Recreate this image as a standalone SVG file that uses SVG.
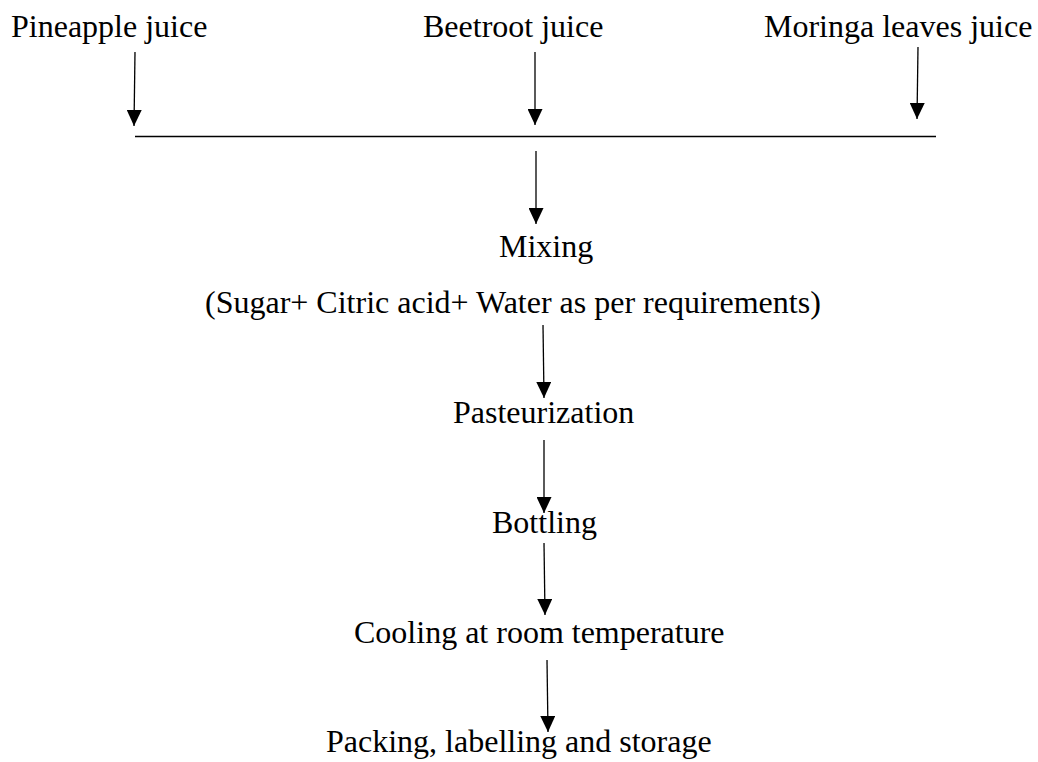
<svg xmlns="http://www.w3.org/2000/svg" width="1038" height="762" viewBox="0 0 1038 762">
<style>
text{font-family:"Liberation Serif","Times New Roman",serif;font-size:32px;fill:#000}
.c line{stroke:#000;stroke-width:1.3;fill:none}
</style>
<defs>
<marker id="ah" markerUnits="userSpaceOnUse" viewBox="0 0 16 15" refX="16" refY="7.5" markerWidth="16" markerHeight="15" orient="auto">
<path d="M0,0 L16,7.5 L0,15 z" fill="#000"/>
</marker>
</defs>
<rect width="1038" height="762" fill="#fff"/>
<g id="n-pineapple"><text x="11" y="37">Pineapple juice</text></g>
<g id="n-beetroot"><text x="423" y="37">Beetroot juice</text></g>
<g id="n-moringa"><text x="764" y="37">Moringa leaves juice</text></g>
<g id="n-mixing"><text x="499" y="257">Mixing</text></g>
<g id="n-additives"><text x="205" y="313">(Sugar+ Citric acid+ Water as per requirements)</text></g>
<g id="n-pasteurization"><text x="453" y="423">Pasteurization</text></g>
<g id="n-bottling"><text x="492" y="533">Bottling</text></g>
<g id="n-cooling"><text x="354" y="643">Cooling at room temperature</text></g>
<g id="n-packing"><text x="326" y="752">Packing, labelling and storage</text></g>
<g id="connectors" class="c">
<line x1="135" y1="52" x2="134" y2="126" marker-end="url(#ah)"/>
<line x1="535" y1="52" x2="535" y2="125" marker-end="url(#ah)"/>
<line x1="918" y1="47" x2="917" y2="119" marker-end="url(#ah)"/>
<line x1="135" y1="136.5" x2="936" y2="136.5"/>
<line x1="536" y1="151" x2="536" y2="224" marker-end="url(#ah)"/>
<line x1="543" y1="325" x2="544" y2="398" marker-end="url(#ah)"/>
<line x1="544" y1="440" x2="544" y2="513" marker-end="url(#ah)"/>
<line x1="544" y1="543" x2="545" y2="615" marker-end="url(#ah)"/>
<line x1="547" y1="660" x2="548" y2="732" marker-end="url(#ah)"/>
</g>
</svg>
